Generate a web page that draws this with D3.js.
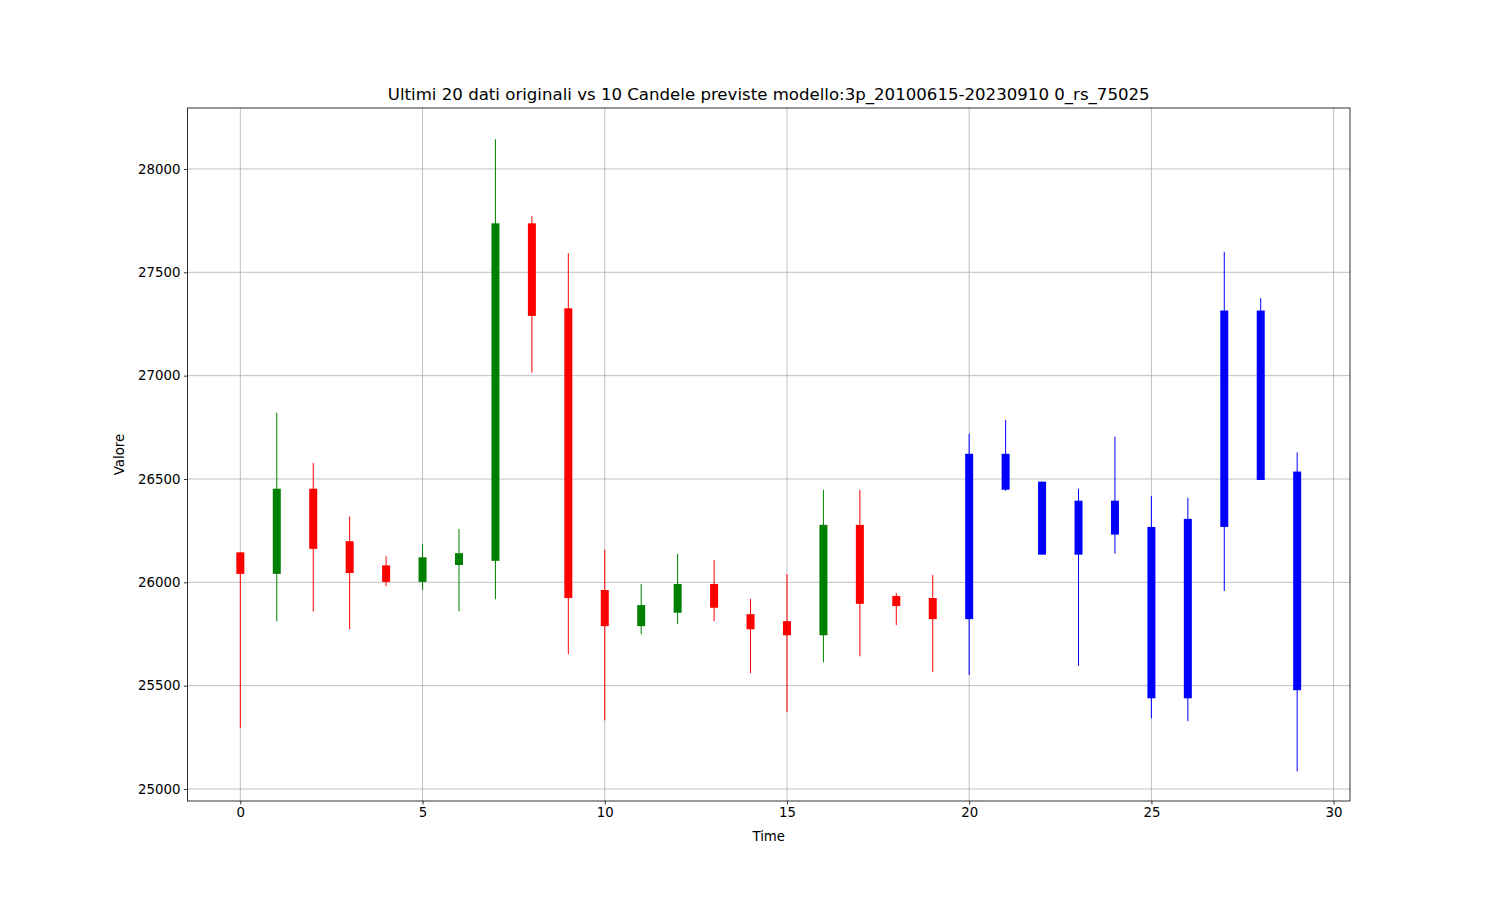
<!DOCTYPE html>
<html>
<head>
<meta charset="utf-8">
<script src="https://cdn.jsdelivr.net/npm/d3@7"></script>
<style>
  html, body { margin: 0; padding: 0; background: #fff; }
  svg { display: block; font-family: "DejaVu Sans", sans-serif; }
</style>
</head>
<body>
<svg id="chart" width="1500" height="900"></svg>
<script>
// Data
const times = [0,1,2,3,4,5,6,7,8,9,10,11,12,13,14,15,16,17,18,19,20,21,22,23,24,25,26,27,28,29];
const opens  = [26145,26041,26453,26199,26082,26002,26084,26104,27737,27326,25963,25788,25853,25992,25846,25812,25744,26278,25934,25924,
                25822,26622,26487,26134,26231,26268,25439,26268,26495,25478];
const closes = [26041,26453,26162,26045,26002,26121,26141,27737,27289,25924,25788,25890,25992,25877,25773,25744,26278,25896,25885,25822,
                26622,26448,26134,26395,26395,25439,26307,27315,27315,26536];
const highs  = [26145,26821,26578,26318,26126,26184,26258,28144,27772,27592,26157,25992,26138,26108,25919,26040,26448,26448,25948,26036,
                26719,26786,26487,26453,26705,26418,26409,27599,27375,26629];
const lows   = [25296,25812,25859,25773,25981,25963,25859,25918,27014,25653,25332,25749,25798,25812,25561,25372,25613,25642,25793,25565,
                25552,26443,26134,25596,26139,25342,25328,25958,26495,25085];
const isPredicted = times.map(t => t >= 20);
const xTicks = [0,5,10,15,20,25,30];
const yTicks = [25000,25500,26000,26500,27000,27500,28000];
const titleText = "Ultimi 20 dati originali vs 10 Candele previste modello:3p_20100615-20230910 0_rs_75025";

(function () {
const svg = d3.select("#chart");
const pL = 187.5, pR = 1350, pT = 108, pB = 801;

const x = d3.scaleLinear().domain([-1.45, 30.45]).range([pL, pR]);
const y = d3.scaleLinear().domain([24942, 28295]).range([pB, pT]);

// grid
const g = svg.append("g");
g.selectAll("line.vg").data(xTicks).enter().append("line")
  .attr("x1", d => x(d)).attr("x2", d => x(d))
  .attr("y1", pT).attr("y2", pB)
  .attr("stroke", "#b0b0b0").attr("stroke-width", 0.8);
g.selectAll("line.hg").data(yTicks).enter().append("line")
  .attr("y1", d => y(d)).attr("y2", d => y(d))
  .attr("x1", pL).attr("x2", pR)
  .attr("stroke", "#b0b0b0").attr("stroke-width", 0.8);

// candles
const data = times.map((t, i) => ({t, o: opens[i], c: closes[i], h: highs[i], l: lows[i], p: isPredicted[i]}));
const color = d => d.p ? "#0000ff" : (d.c >= d.o ? "#008000" : "#ff0000");
const bw = 8;
const cg = svg.append("g");
cg.selectAll("line.wick").data(data).enter().append("line")
  .attr("x1", d => x(d.t)).attr("x2", d => x(d.t))
  .attr("y1", d => y(d.h)).attr("y2", d => y(d.l))
  .attr("stroke", color).attr("stroke-width", 1);
cg.selectAll("rect.body").data(data).enter().append("rect")
  .attr("x", d => x(d.t) - bw / 2)
  .attr("width", bw)
  .attr("y", d => y(Math.max(d.o, d.c)))
  .attr("height", d => Math.max(1, y(Math.min(d.o, d.c)) - y(Math.max(d.o, d.c))))
  .attr("fill", color);

// axes
const xAxis = d3.axisBottom(x).tickValues(xTicks).tickSize(3.5).tickPadding(3.5).tickFormat(d3.format("d"));
const yAxis = d3.axisLeft(y).tickValues(yTicks).tickSize(3.5).tickPadding(3.5).tickFormat(d3.format("d"));
const xa = svg.append("g").attr("transform", `translate(0,${pB})`).call(xAxis);
const ya = svg.append("g").attr("transform", `translate(${pL},0)`).call(yAxis);
[xa, ya].forEach(a => {
  a.select(".domain").remove();
  a.selectAll("text").attr("font-size", "13.33px").attr("fill", "#000").attr("font-family", "DejaVu Sans");
  a.selectAll(".tick line").attr("stroke", "#000").attr("stroke-width", 0.8);
});

// frame
svg.append("rect").attr("x", pL).attr("y", pT).attr("width", pR - pL).attr("height", pB - pT)
  .attr("fill", "none").attr("stroke", "#000").attr("stroke-width", 0.8);

// labels
svg.append("text").attr("x", (pL + pR) / 2).attr("y", 100)
  .attr("text-anchor", "middle").attr("font-size", "16.6px").text(titleText);
svg.append("text").attr("x", (pL + pR) / 2).attr("y", 841)
  .attr("text-anchor", "middle").attr("font-size", "13.33px").text("Time");
svg.append("text").attr("transform", `translate(124,${(pT + pB) / 2}) rotate(-90)`)
  .attr("text-anchor", "middle").attr("font-size", "13.33px").text("Valore");
})();
</script>
</body>
</html>
